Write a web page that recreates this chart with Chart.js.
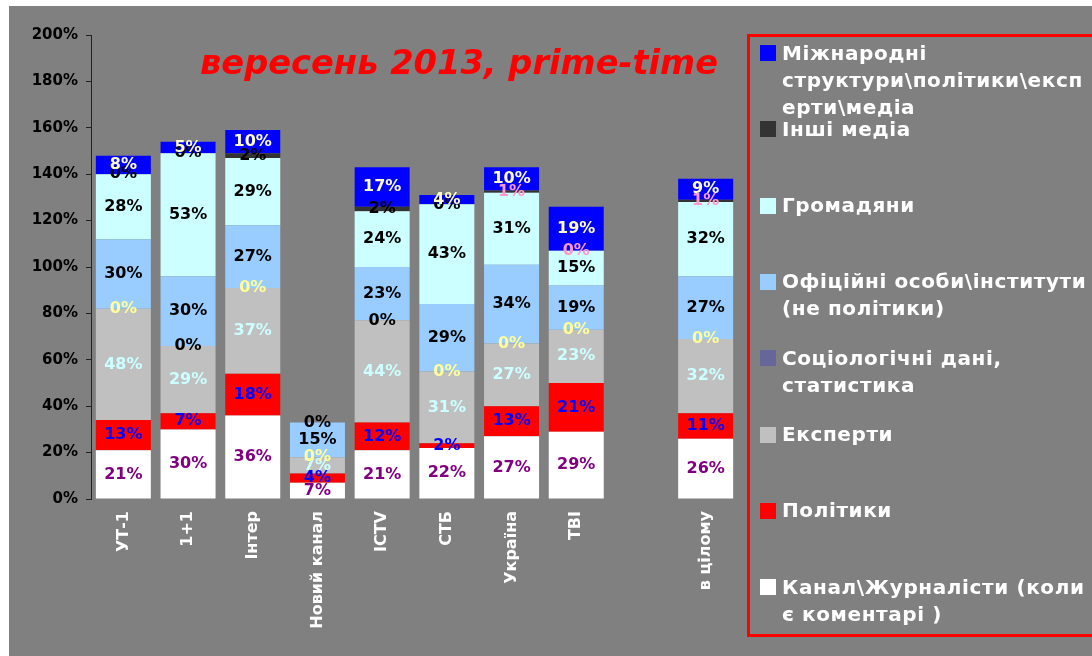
<!DOCTYPE html>
<html>
<head>
<meta charset="utf-8">
<script src="https://cdn.jsdelivr.net/npm/chart.js@4"></script>
<style>
  html, body { margin: 0; padding: 0; background: #fff; overflow: hidden; }
  #wrap { position: absolute; left: 9px; top: 6px; width: 1083px; height: 650px; background: #808080; }
  #legend { position: absolute; left: 747px; top: 34px; width: 360px; height: 597px; border: 3px solid #ff0000; }
  .item { position: absolute; left: 0; }
  .mark { position: absolute; left: 10px; width: 16px; height: 16px; }
  .txt { position: absolute; left: 32px; white-space: pre; color: #fff; letter-spacing: 0.6px;
         font: bold 20px "DejaVu Sans", sans-serif; line-height: 27px; }
</style>
</head>
<body>
<div id="wrap"><canvas id="chart" width="1083" height="650"></canvas></div>
<div id="legend"></div>
<script>
const categories = ['УТ-1', '1+1', 'Інтер', 'Новий канал', 'ICTV', 'СТБ', 'Україна', 'ТВІ', '', 'в цілому'];

// values in %, bottom of stack first
const journalists   = [21, 30, 36, 7, 21, 22, 27, 29, null, 26];
const politicians   = [13, 7, 18, 4, 12, 2, 13, 21, null, 11];
const experts       = [48, 29, 37, 7, 44, 31, 27, 23, null, 32];
const sociology     = [0, 0, 0, 0, 0, 0, 0, 0, null, 0];
const officials     = [30, 30, 27, 15, 23, 29, 34, 19, null, 27];
const citizens      = [28, 53, 29, 0, 24, 43, 31, 15, null, 32];
const otherMedia    = [0, 0, 2, null, 2, 0, 1, 0, null, 1];
const international = [8, 5, 10, null, 17, 4, 10, 19, null, 9];

const seriesNames = [
  'Канал\\Журналісти (коли\nє коментарі )',
  'Політики',
  'Експерти',
  'Соціологічні дані,\nстатистика',
  'Офіційні особи\\інститути\n(не політики)',
  'Громадяни',
  'Інші медіа',
  'Міжнародні\nструктури\\політики\\експ\nерти\\медіа'
];
const seriesData = [journalists, politicians, experts, sociology, officials, citizens, otherMedia, international];
const seriesColors = ['#ffffff', '#ff0000', '#c0c0c0', '#666699', '#99ccff', '#ccffff', '#333333', '#0000ff'];

const pink = '#ff99cc';
const labelColors = [
  '#800080',
  '#0000ff',
  '#ccffff',
  ['#ffff99', '#000', '#ffff99', '#ffff99', '#000', '#ffff99', '#ffff99', '#ffff99', '#000', '#ffff99'],
  '#000',
  '#000',
  ['#000', '#000', '#000', '#000', '#000', '#000', pink, pink, pink, pink],
  '#ffffcc'
];

const titleText = 'вересень 2013, prime-time';

const valueLabels = {
  id: 'valueLabels',
  afterDatasetsDraw(chart) {
    const ctx = chart.ctx;
    ctx.save();
    ctx.font = 'bold 16px "DejaVu Sans"';
    ctx.textAlign = 'center';
    ctx.textBaseline = 'middle';
    chart.data.datasets.forEach((ds, i) => {
      const meta = chart.getDatasetMeta(i);
      meta.data.forEach((bar, j) => {
        const v = ds.data[j];
        if (v === null) return;
        const c = labelColors[i];
        ctx.fillStyle = Array.isArray(c) ? c[j] : c;
        ctx.fillText(v + '%', bar.x, (bar.y + bar.base) / 2);
      });
    });

    // title sits inside the plot
    const a = chart.chartArea;
    ctx.font = 'italic bold 34px "DejaVu Sans Condensed", "DejaVu Sans"';
    ctx.textAlign = 'left';
    ctx.textBaseline = 'alphabetic';
    ctx.fillStyle = '#ff0000';
    const w = ctx.measureText(titleText).width;
    ctx.translate(a.left + 109, a.top + 39);
    ctx.scale(518 / w, 1);
    ctx.fillText(titleText, 0, 0);
    ctx.restore();
  }
};

const datasets = seriesData.map((d, i) => ({
  label: seriesNames[i].replace(/\n/g, ' '),
  data: d,
  backgroundColor: seriesColors[i],
  borderWidth: 0,
  categoryPercentage: 1,
  barPercentage: 0.85
}));

new Chart(document.getElementById('chart'), {
  type: 'bar',
  data: { labels: categories, datasets: datasets },
  options: {
    responsive: false,
    devicePixelRatio: 1,
    animation: false,
    layout: { padding: { top: 29, right: 354, left: 0, bottom: 0 } },
    plugins: {
      legend: { display: false },
      tooltip: { enabled: false }
    },
    scales: {
      x: {
        stacked: true,
        grid: { display: false, drawTicks: false },
        border: { display: false },
        ticks: {
          color: '#fff',
          font: { family: 'DejaVu Sans', weight: 'bold', size: 16 },
          minRotation: 90,
          maxRotation: 90,
          autoSkip: false,
          padding: 12
        },
        afterFit: s => { s.height = 157; }
      },
      y: {
        stacked: true,
        min: 0,
        max: 200,
        grid: { drawOnChartArea: false, drawTicks: true, tickLength: 5, tickColor: '#222' },
        border: { display: true, color: '#222' },
        ticks: {
          stepSize: 20,
          color: '#000',
          padding: 8,
          font: { family: 'DejaVu Sans', weight: 'bold', size: 15 },
          callback: v => v + '%'
        },
        afterFit: s => { s.width = 82; }
      }
    }
  },
  plugins: [valueLabels]
});

// legend, top entry = top of stack
const legend = document.getElementById('legend');
seriesNames.slice().reverse().forEach((name, k) => {
  const i = seriesNames.length - 1 - k;
  const cy = 53 + k * 76.3 - 37;
  const item = document.createElement('div');
  item.className = 'item';
  item.style.top = cy + 'px';
  const m = document.createElement('div');
  m.className = 'mark';
  m.style.top = '-8px';
  m.style.background = seriesColors[i];
  const t = document.createElement('div');
  t.className = 'txt';
  t.style.top = '-13.5px';
  t.textContent = name;
  item.appendChild(m);
  item.appendChild(t);
  legend.appendChild(item);
});
</script>
</body>
</html>
